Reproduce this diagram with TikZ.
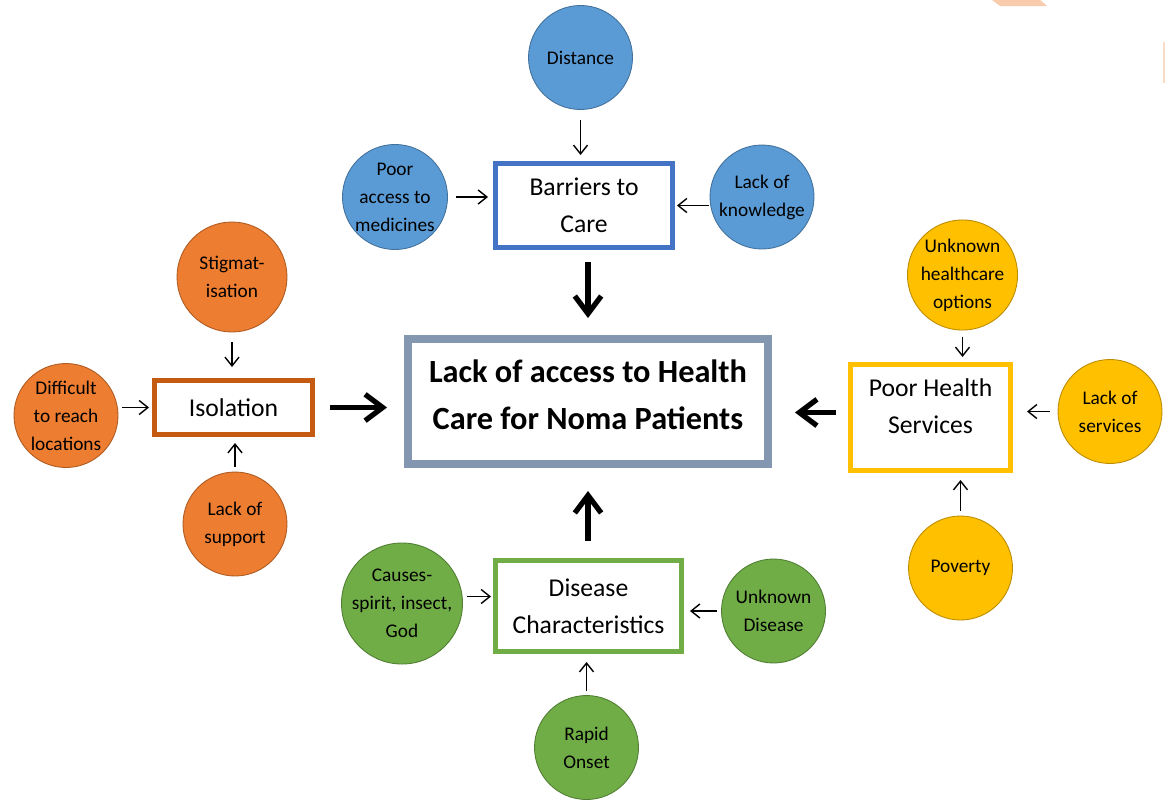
\documentclass[tikz,border=0pt]{standalone}
\usepackage{fontspec}
\setmainfont{Carlito}
\usetikzlibrary{arrows.meta}

\definecolor{bluefill}{HTML}{5B9BD5}
\definecolor{blueedge}{HTML}{41719C}
\definecolor{blueframe}{HTML}{4472C4}
\definecolor{orangefill}{HTML}{ED7D31}
\definecolor{orangeedge}{HTML}{AE5A21}
\definecolor{orangeframe}{HTML}{C55A11}
\definecolor{yellowfill}{HTML}{FFC000}
\definecolor{yellowedge}{HTML}{BC8C00}
\definecolor{yellowframe}{HTML}{FFC000}
\definecolor{greenfill}{HTML}{70AD47}
\definecolor{greenedge}{HTML}{507E32}
\definecolor{greenframe}{HTML}{70AD47}
\definecolor{mainframe}{HTML}{8497B0}
\definecolor{scrap}{HTML}{F8CBAD}

\tikzset{
	cause/.style={circle, minimum size=2.08cm, inner sep=0pt, fill=#1fill, draw=#1edge,
		line width=0.5pt, align=center, font=\fontsize{11}{15.9}\selectfont},
	factor/.style={draw=#1frame, line width=0.1cm, fill=white, inner sep=0pt,
		align=center, font=\fontsize{14.6}{21}\selectfont},
	feed/.style={-{Straight Barb[length=5pt,width=8pt]}, line width=0.8pt},
	lead/.style={-{Straight Barb[length=10pt,width=15pt]}, line width=3pt}
}

\begin{document}
\begin{tikzpicture}[x=0.02cm, y=-0.02cm]
		\useasboundingbox (0,0) rectangle (1165,801);

		% Leftovers of the cropped page
		\fill[scrap] (992,0) -- (1040,0) -- (1047,6) -- (1000,6) -- cycle;
		\fill[scrap!70] (1163,42) rectangle (1165,83);

		% Main problem
		\node[draw=mainframe, line width=0.16cm, minimum width=7.2cm, minimum height=2.5cm,
			inner sep=0pt, font=\fontsize{18.4}{27.2}\selectfont\bfseries] (main) at (588,401.5)
			{\begin{tabular}{@{}c@{}}Lack of access to Health\\Care for Noma Patients\\[0.2cm]\end{tabular}};

		% Barriers to care
		\node[factor=blue, minimum width=3.54cm, minimum height=1.68cm] (barriers) at (584,205.5) {Barriers to\\Care};
		\node[cause=blue] (distance) at (580.5,57.5) {Distance};
		\node[cause=blue] (medicines) at (395,197) {Poor\\access to\\medicines};
		\node[cause=blue] (knowledge) at (762,197) {Lack of\\knowledge};
		\draw[feed, shorten <=0.2cm, shorten >=0.12cm] (distance) -- (distance |- barriers.north);
		\draw[feed, shorten <=0.16cm, shorten >=0.1cm] (medicines) -- (medicines -| barriers.west);
		\draw[feed, shorten <=0.02cm, shorten >=0.04cm] (knowledge.west |- barriers.east) -- (barriers.east);
		\draw[lead, shorten <=0.24cm, shorten >=0.34cm] (barriers.south -| main) -- (main.north);

		% Isolation
		\node[factor=orange, minimum width=3.16cm, minimum height=1.08cm] (isolation) at (233.5,407.5) {Isolation};
		\node[cause=orange, minimum size=2.2cm] (stigma) at (232,277) {Stigmat-\\isation};
		\node[cause=orange] (remote) at (66,415.5) {Difficult\\to reach\\locations};
		\node[cause=orange] (support) at (235,524) {Lack of\\support};
		\draw[feed, shorten <=0.2cm, shorten >=0.22cm] (stigma) -- (stigma |- isolation.north);
		\draw[feed, shorten <=0.08cm, shorten >=0.06cm] (remote.east |- isolation.west) -- (isolation.west);
		\draw[feed, shorten <=0.1cm, shorten >=0.12cm] (support) -- (support |- isolation.south);
		\draw[lead, shorten <=0.3cm, shorten >=0.34cm] (isolation) -- (isolation -| main.west);

		% Poor health services
		\node[factor=yellow, minimum width=3.2cm, minimum height=2.12cm] (services) at (930.5,417.5)
			{\begin{tabular}{@{}c@{}}Poor Health\\Services\\[0.4cm]\end{tabular}};
		\node[cause=yellow] (options) at (962.5,275) {Unknown\\healthcare\\options};
		\node[cause=yellow] (lackserv) at (1110,411.5) {Lack of\\services};
		\node[cause=yellow] (poverty) at (960.5,568) {Poverty};
		\draw[feed, shorten <=0.12cm, shorten >=0.1cm] (options) -- (options |- services.north);
		\draw[feed, shorten <=0.16cm, shorten >=0.28cm] (lackserv) -- (lackserv -| services.east);
		\draw[feed, shorten <=0.1cm, shorten >=0.14cm] (poverty) -- (poverty |- services.south);
		\draw[lead, shorten <=0.24cm, shorten >=0.46cm] ([yshift=0.1cm]services.west) -- ([yshift=0.1cm]services.west -| main.east);

		% Disease characteristics
		\node[factor=green, minimum width=3.72cm, minimum height=1.82cm] (disease) at (588.5,606) {Disease\\Characteristics};
		\node[cause=green, minimum size=2.26cm] (beliefs) at (402,603.5) {Causes-\\spirit, insect,\\God};
		\node[cause=green] (unknown) at (773.5,611) {Unknown\\Disease};
		\node[cause=green] (onset) at (586.5,747.5) {Rapid\\Onset};
		\draw[feed, shorten <=0.08cm, shorten >=0.04cm] ([yshift=0.14cm]beliefs.east) -- ([yshift=0.14cm]beliefs.east -| disease.west);
		\draw[feed, shorten <=0.08cm, shorten >=0.12cm] (unknown) -- (unknown -| disease.east);
		\draw[feed, shorten <=0.08cm, shorten >=0.16cm] (onset) -- (onset |- disease.south);
		\draw[lead, shorten <=0.34cm, shorten >=0.46cm] (disease.north -| main) -- (main.south);
	\end{tikzpicture}
\end{document}
